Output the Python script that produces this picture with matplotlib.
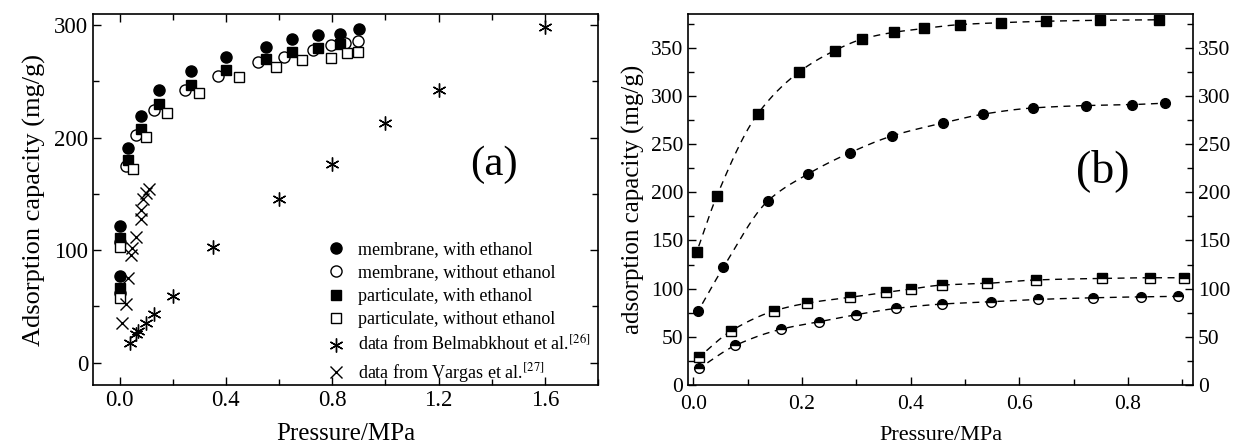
import numpy as np
import matplotlib
matplotlib.use("Agg")
import matplotlib.pyplot as plt
from matplotlib.ticker import MultipleLocator, FormatStrFormatter

plt.rcParams['font.family'] = ['Liberation Serif', 'DejaVu Serif']
plt.rcParams['mathtext.fontset'] = 'stix'

# ---------------- Panel (a) data ----------------
mem_eth_p = [0.0, 0.0, 0.031, 0.079, 0.15, 0.27, 0.40, 0.55, 0.648, 0.747, 0.83, 0.90]
mem_eth_q = [121, 77, 191, 219, 242, 259, 272, 281, 288, 291, 292, 297]

mem_noeth_p = [0.0, 0.0, 0.025, 0.06, 0.129, 0.2475, 0.369, 0.519, 0.619, 0.728, 0.796, 0.847, 0.898]
mem_noeth_q = [107, 62, 175, 202, 225, 242, 255, 267, 272, 278, 282, 284, 286]

par_eth_p = [0.0, 0.0, 0.031, 0.079, 0.15, 0.27, 0.40, 0.55, 0.648, 0.747, 0.83]
par_eth_q = [111, 66, 180, 208, 230, 247, 260, 270, 276, 280, 283]

par_noeth_p = [0.0, 0.0, 0.05, 0.10, 0.179, 0.297, 0.45, 0.59, 0.6875, 0.797, 0.856, 0.898]
par_noeth_q = [103, 57, 172, 201, 222, 240, 254, 263, 269, 271, 275, 276]

belm_p = [0.04, 0.06, 0.07, 0.10, 0.13, 0.20, 0.35, 0.60, 0.80, 1.00, 1.20, 1.60]
belm_q = [17, 25, 28, 35, 43, 59, 103, 145, 177, 213, 242, 298]

varg_p = [0.01, 0.025, 0.031, 0.044, 0.047, 0.0625, 0.079, 0.081, 0.0875, 0.10, 0.109]
varg_q = [35, 52, 75, 96, 102, 112, 128, 136, 145, 151, 154]

# ---------------- Panel (b) data ----------------
b_sq_p = [0.006, 0.043, 0.118, 0.195, 0.26, 0.311, 0.369, 0.425, 0.49, 0.567, 0.65, 0.749, 0.858]
b_sq_q = [138, 196, 281, 325, 347, 359, 366, 370, 374, 376, 377.5, 378.5, 379]

b_ci_p = [0.009, 0.055, 0.137, 0.211, 0.288, 0.366, 0.46, 0.533, 0.625, 0.723, 0.808, 0.869]
b_ci_q = [77, 122, 191, 219, 241, 258.5, 272, 281, 287.5, 290, 291, 292.5]

b_hsq_p = [0.0105, 0.069, 0.149, 0.21, 0.288, 0.354, 0.40, 0.457, 0.541, 0.63, 0.752, 0.841, 0.904]
b_hsq_q = [29, 56, 77, 85, 91, 96, 99.5, 103.7, 105.5, 109, 110.6, 111.3, 111.3]

b_hci_p = [0.0105, 0.077, 0.162, 0.232, 0.30, 0.373, 0.458, 0.548, 0.635, 0.735, 0.825, 0.893]
b_hci_q = [17.3, 41, 58, 65.7, 73, 79.5, 84, 86.4, 88.8, 90.5, 91.5, 92]


def pchip(x, y, xs):
    x = np.asarray(x, float); y = np.asarray(y, float)
    h = np.diff(x); d = np.diff(y) / h
    n = len(x)
    m = np.zeros(n)
    for k in range(1, n - 1):
        if d[k - 1] * d[k] > 0:
            w1 = 2 * h[k] + h[k - 1]; w2 = h[k] + 2 * h[k - 1]
            m[k] = (w1 + w2) / (w1 / d[k - 1] + w2 / d[k])
    m[0] = d[0]; m[-1] = d[-1]
    idx = np.clip(np.searchsorted(x, xs) - 1, 0, n - 2)
    t = (xs - x[idx]) / h[idx]
    h00 = 2 * t**3 - 3 * t**2 + 1; h10 = t**3 - 2 * t**2 + t
    h01 = -2 * t**3 + 3 * t**2; h11 = t**3 - t**2
    return (h00 * y[idx] + h10 * h[idx] * m[idx] + h01 * y[idx + 1] + h11 * h[idx] * m[idx + 1])


fig = plt.figure(figsize=(12.34, 4.47), dpi=100)
axa = fig.add_axes([93 / 1234, 62 / 447, 505 / 1234, 371 / 447])
axb = fig.add_axes([688 / 1234, 62 / 447, 505 / 1234, 371 / 447])

ms = 8
axa.plot(mem_eth_p, mem_eth_q, 'o', color='black', ms=ms, ls='none', label='membrane, with ethanol')
axa.plot(mem_noeth_p, mem_noeth_q, 'o', mfc='white', mec='black', mew=1.0, ms=ms, ls='none',
         label='membrane, without ethanol')
axa.plot(par_eth_p, par_eth_q, 's', color='black', ms=ms - 0.8, ls='none', label='particulate, with ethanol')
axa.plot(par_noeth_p, par_noeth_q, 's', mfc='white', mec='black', mew=1.0, ms=ms - 0.8, ls='none',
         label='particulate, without ethanol')
axa.plot(belm_p, belm_q, marker=(6, 2, 0), color='black', ms=10, mew=1.0, ls='none',
         label='data from Belmabkhout et al.$^{[26]}$')
axa.plot(varg_p, varg_q, 'x', color='black', ms=9, mew=1.0, ls='none',
         label='data from Vargas et al.$^{[27]}$')

axa.set_xlim(-0.1, 1.8)
axa.set_ylim(-20, 310)
axa.xaxis.set_major_locator(MultipleLocator(0.4))
axa.xaxis.set_minor_locator(MultipleLocator(0.2))
axa.yaxis.set_major_locator(MultipleLocator(100))
axa.yaxis.set_minor_locator(MultipleLocator(50))
axa.tick_params(which='both', direction='in', top=True, right=True, labelsize=16.5)
axa.tick_params(which='major', length=6, width=1)
axa.tick_params(which='minor', length=4, width=1)
axa.xaxis.set_major_formatter(FormatStrFormatter('%.1f'))
axa.set_xlabel('Pressure/MPa', fontsize=18, labelpad=9)
axa.set_ylabel('Adsorption capacity (mg/g)', fontsize=19, labelpad=6)
axa.text(1.41, 176, '(a)', fontsize=31, ha='center', va='center')
leg = axa.legend(loc='lower right', bbox_to_anchor=(1.015, -0.04), frameon=False, fontsize=13,
                 handletextpad=0.7, labelspacing=0.36, handlelength=1.1, borderpad=0.3)
for sp in axa.spines.values():
    sp.set_linewidth(1.2)

# ---------------- Panel (b) ----------------
msb = 7
dash = (0, (5, 4))
for px, qy in [(b_sq_p, b_sq_q), (b_ci_p, b_ci_q), (b_hsq_p, b_hsq_q), (b_hci_p, b_hci_q)]:
    xs = np.linspace(px[0] - 0.004, px[-1], 400)
    xs_c = np.clip(xs, px[0], px[-1])
    ys = pchip(px, qy, xs_c)
    ys[xs < px[0]] = qy[0] + (xs[xs < px[0]] - px[0]) * (qy[1] - qy[0]) / (px[1] - px[0])
    axb.plot(xs, ys, color='black', lw=1.0, linestyle=dash)

axb.plot(b_sq_p, b_sq_q, 's', color='black', ms=msb - 0.5, ls='none')
axb.plot(b_ci_p, b_ci_q, 'o', color='black', ms=msb, ls='none')
axb.plot(b_hsq_p, b_hsq_q, 's', mfc='black', mfcalt='white', mec='black', fillstyle='top',
         mew=1.0, ms=msb - 0.5, ls='none')
axb.plot(b_hci_p, b_hci_q, 'o', mfc='black', mfcalt='white', mec='black', fillstyle='top',
         mew=1.0, ms=msb, ls='none')

axb.set_xlim(-0.01, 0.92)
axb.set_ylim(0, 385)
axb.xaxis.set_major_locator(MultipleLocator(0.2))
axb.xaxis.set_minor_locator(MultipleLocator(0.1))
axb.yaxis.set_major_locator(MultipleLocator(50))
axb.yaxis.set_minor_locator(MultipleLocator(25))
axb.xaxis.set_major_formatter(FormatStrFormatter('%.1f'))
axb.tick_params(which='both', direction='in', top=False, right=True, labelright=True, labelsize=15.5)
axb.tick_params(which='major', length=6, width=1)
axb.tick_params(which='minor', length=4, width=1)
axb.tick_params(axis='x', which='major', pad=7)
axb.set_xlabel('Pressure/MPa', fontsize=16, labelpad=9)
axb.set_ylabel('adsorption capacity (mg/g)', fontsize=18, labelpad=4)
axb.text(0.753, 223, '(b)', fontsize=33, ha='center', va='center')
for sp in axb.spines.values():
    sp.set_linewidth(1.2)

fig.savefig('out.png', dpi=100)
